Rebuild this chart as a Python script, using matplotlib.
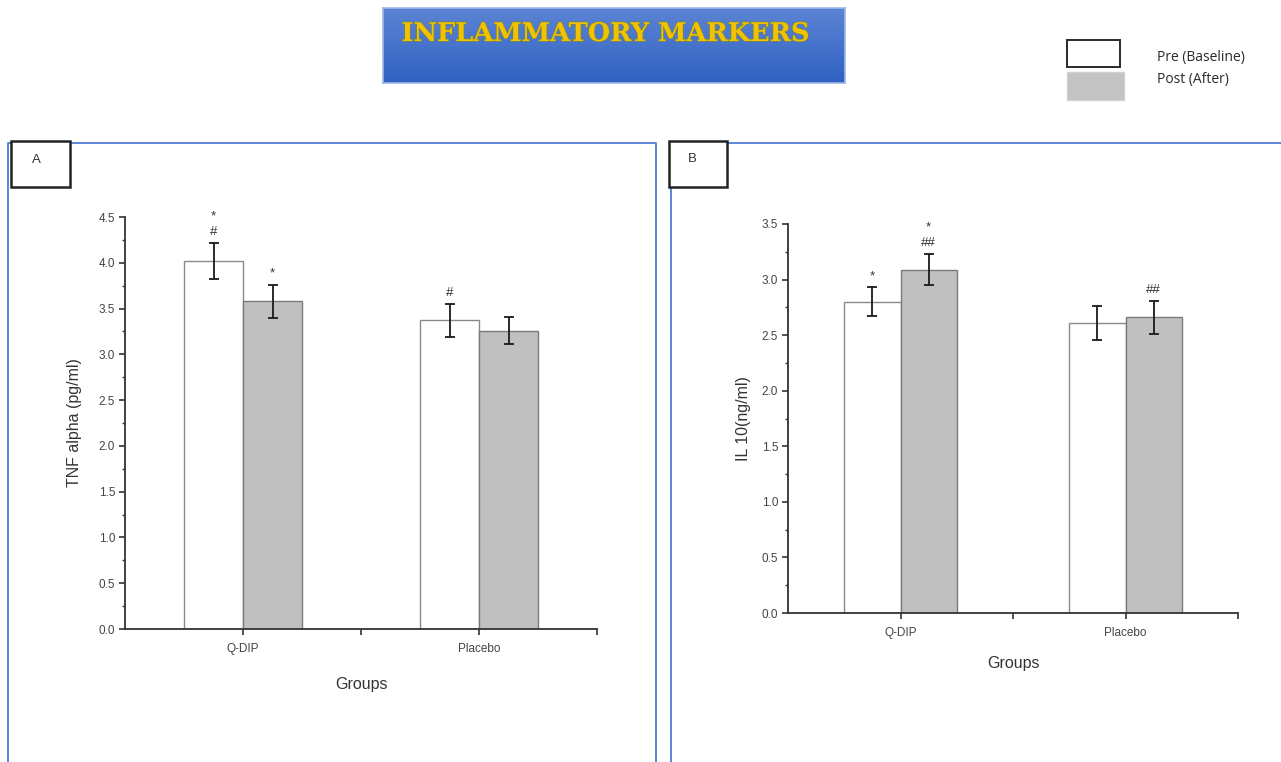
import numpy as np
import matplotlib
matplotlib.use("Agg")
import matplotlib.pyplot as plt
from matplotlib.patches import Rectangle
import matplotlib.patheffects as pe

# ---------------- data ----------------
groups = ["Q-DIP", "Placebo"]
tnf_pre = [4.02, 3.37]
tnf_pre_err = [0.20, 0.18]
tnf_post = [3.58, 3.26]
tnf_post_err = [0.18, 0.15]
il10_pre = [2.80, 2.61]
il10_pre_err = [0.13, 0.15]
il10_post = [3.09, 2.66]
il10_post_err = [0.14, 0.15]
# significance marks, bottom to top
tnf_pre_marks = [["#", "*"], ["#"]]
tnf_post_marks = [["*"], []]
il10_pre_marks = [["*"], []]
il10_post_marks = [["##", "*"], ["##"]]
tnf_yticks = [0.0, 0.5, 1.0, 1.5, 2.0, 2.5, 3.0, 3.5, 4.0, 4.5]
il10_yticks = [0.0, 0.5, 1.0, 1.5, 2.0, 2.5, 3.0, 3.5]
series_names = ["Pre (Baseline)", "Post (After)"]

W, H = 1281, 762
fig = plt.figure(figsize=(W / 100, H / 100), dpi=100)
fig.patch.set_facecolor("white")


def fx(x):
    return x / W


def fy(y):
    return 1 - y / H


def add_ax_px(l, t, r, b):
    return fig.add_axes([fx(l), fy(b), fx(r) - fx(l), fy(t) - fy(b)])


# overlay axes for decorations in pixel coords
deco = fig.add_axes([0, 0, 1, 1], zorder=0)
deco.set_xlim(0, W)
deco.set_ylim(H, 0)
deco.axis("off")

# panel frames (blue)
blue = "#5b86d6"
deco.plot([8, 8, 656, 656], [H + 5, 143, 143, H + 5], color=blue, lw=1.4)
deco.plot([671, 671, W + 5], [H + 5, 143, 143], color=blue, lw=1.4)

# panel label boxes
for (l, t, r, b, lab, tx, ty) in [(11, 141, 70, 187, "A", 36, 160), (669, 141, 727, 187, "B", 692, 159)]:
    deco.add_patch(Rectangle((l, t), r - l, b - t, fill=True, facecolor="white",
                             edgecolor="#222222", lw=1.8, zorder=3))
    deco.text(tx, ty, lab, ha="center", va="center", fontsize=9.5,
              family="Liberation Sans", color="#333333", zorder=4)

# title box with gradient
tax = add_ax_px(383, 8, 845, 83)
grad = np.linspace(0, 1, 100).reshape(-1, 1)
c_top = np.array([0x5c, 0x84, 0xd4]) / 255
c_bot = np.array([0x30, 0x62, 0xc2]) / 255
img = c_top[None, None, :] * (1 - grad[:, :, None]) + c_bot[None, None, :] * grad[:, :, None]
tax.imshow(img, aspect="auto", extent=[0, 1, 0, 1])
tax.set_xlim(0, 1)
tax.set_ylim(0, 1)
tax.set_xticks([])
tax.set_yticks([])
for s in tax.spines.values():
    s.set_color("#9db8ea")
    s.set_linewidth(1.2)
tax.text(0.040, 0.66, "INFLAMMATORY MARKERS", transform=tax.transAxes, ha="left", va="center",
         fontsize=18.5, fontweight="bold", family="DejaVu Serif", color="#f2c200",
         path_effects=[pe.withStroke(linewidth=1.0, foreground="#7d8a3c")])

# legend
deco.add_patch(Rectangle((1067, 40), 53, 27, facecolor="white", edgecolor="#2a2a2a", lw=1.4, zorder=3))
deco.add_patch(Rectangle((1067, 72), 57, 28, facecolor="#c3c3c3", edgecolor="#d0d0d0", lw=1.0, zorder=3))
deco.text(1157, 57, series_names[0], ha="left", va="center", fontsize=10, family="Open Sans", color="#2a2a2a")
deco.text(1157, 79, series_names[1], ha="left", va="center", fontsize=10, family="Open Sans", color="#2a2a2a")


def draw_panel(ax, pre, pre_err, post, post_err, pre_marks, post_marks, yticks, ylabel, label_pad, xpad):
    xs = np.array([1.0, 3.0])
    w = 0.5
    ax.bar(xs - w / 2, pre, width=w, color="white", edgecolor="#8a8a8a", linewidth=1.0, zorder=2)
    ax.bar(xs + w / 2, post, width=w, color="#c0c0c0", edgecolor="#7a7a7a", linewidth=1.0, zorder=2)
    ax.errorbar(xs - w / 2, pre, yerr=pre_err, fmt="none", ecolor="#1a1a1a", elinewidth=1.3,
                capsize=3.5, capthick=1.3, zorder=3)
    ax.errorbar(xs + w / 2, post, yerr=post_err, fmt="none", ecolor="#1a1a1a", elinewidth=1.3,
                capsize=3.5, capthick=1.3, zorder=3)
    for xpos, vals, errs, marks in [(xs - w / 2, pre, pre_err, pre_marks), (xs + w / 2, post, post_err, post_marks)]:
        for xi, v, e, mk in zip(xpos, vals, errs, marks):
            for k, m in enumerate(mk):
                off = 8 + k * 11
                ax.annotate(m, xy=(xi, v + e), xytext=(0, off), textcoords="offset points",
                            ha="center", va="center", fontsize=9.5, family="Liberation Sans",
                            color="#333333", annotation_clip=False)
    ax.set_xlim(0, 4)
    ax.set_ylim(0, yticks[-1])
    ax.set_xticks([1, 2, 3, 4])
    ax.set_xticklabels([groups[0], "", groups[1], ""])
    ax.set_yticks(yticks)
    ax.set_yticklabels([f"{t:.1f}" for t in yticks])
    ax.set_yticks(np.arange(0.25, yticks[-1], 0.5), minor=True)
    ax.spines["top"].set_visible(False)
    ax.spines["right"].set_visible(False)
    for s in ["left", "bottom"]:
        ax.spines[s].set_color("#333333")
        ax.spines[s].set_linewidth(1.3)
    ax.tick_params(axis="both", which="major", direction="out", length=4, width=1.2, color="#333333",
                   labelsize=8.5, labelcolor="#444444", pad=3)
    ax.tick_params(axis="x", which="major", pad=6)
    ax.tick_params(axis="y", which="minor", direction="out", length=2.5, width=1.0, color="#333333")
    for lab in ax.get_xticklabels() + ax.get_yticklabels():
        lab.set_family("Liberation Sans")
    ax.set_xlabel("Groups", fontsize=11.5, family="Liberation Sans", color="#333333", labelpad=xpad)
    ax.set_ylabel(ylabel, fontsize=11.5, family="Liberation Sans", color="#333333", labelpad=label_pad)
    ax.patch.set_alpha(0)


axA = add_ax_px(125, 217, 597, 629)
draw_panel(axA, tnf_pre, tnf_pre_err, tnf_post, tnf_post_err, tnf_pre_marks, tnf_post_marks,
           tnf_yticks, "TNF alpha (pg/ml)", 12, 16)

axB = add_ax_px(788, 224, 1238, 613)
draw_panel(axB, il10_pre, il10_pre_err, il10_post, il10_post_err, il10_pre_marks, il10_post_marks,
           il10_yticks, "IL 10(ng/ml)", 8, 12)

fig.savefig("out.png", dpi=100)
